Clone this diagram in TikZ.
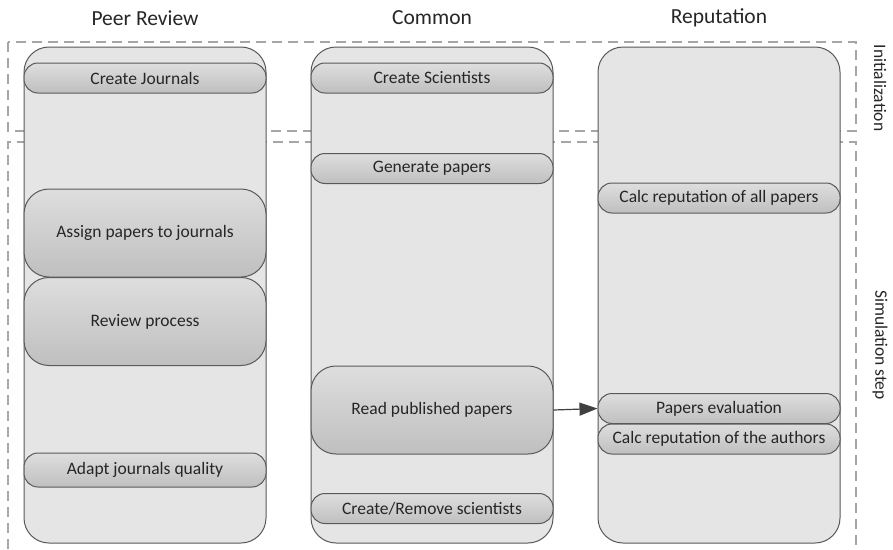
\documentclass[tikz,border=0pt]{standalone}
\usepackage{fontspec}
\setmainfont{Carlito}
\usepackage{tikz}
\usetikzlibrary{arrows.meta,positioning}

\begin{document}
\begin{tikzpicture}[x=1pt,y=-1pt, every node/.style={font=\fontsize{17.5}{20}\selectfont, text=black!85}]
		\tikzstyle{lane}=[draw=black!65, fill=black!10, rounded corners=25pt, line width=1pt, minimum width=242pt, minimum height=496pt, inner sep=0pt]
		\tikzstyle{task}=[draw=black!65, top color=black!13, bottom color=black!25, rounded corners=14pt, line width=1pt, minimum width=242pt, minimum height=30pt, inner sep=0pt]
		\tikzstyle{bigtask}=[task, rounded corners=25pt, minimum height=88pt]
		\tikzstyle{phase}=[draw=black!35, dash pattern=on 10pt off 6pt, line width=1.5pt]
		\tikzstyle{lanetitle}=[font=\fontsize{21.5}{25}\selectfont]
		\tikzstyle{flow}=[draw=black!75, line width=1.2pt, -{Triangle[length=18pt,width=13pt]}]
		
		\useasboundingbox (0,0) rectangle (893,549);
		
		% phases
		\draw[phase] (8,42) rectangle (856,131);
		\draw[phase] (8,549) -- (8,142) -- (856,142) -- (856,549);
		\node[rotate=-90] (init) at (880,88)  {Initialization};
		\node[rotate=-90] (sim)  at (880,345) {Simulation step};
		
		% lanes
		\node[lane] (peer)   at (145,295) {};
		\node[lane] (common) at (432,295) {};
		\node[lane] (rep)    at (719,295) {};
		\node[lanetitle] (peertitle)   at (145,18) {Peer Review};
		\node[lanetitle] (commontitle) at (432,18) {Common};
		\node[lanetitle] (reptitle)    at (719,18) {Reputation};
		
		% activities
		\node[task]    (journals)  at (145,78)    {Create Journals};
		\node[bigtask] (assign)    at (145,233)   {Assign papers to journals};
		\node[bigtask] (review)    at (145,321.5) {Review process};
		\node[task, minimum height=34pt] (adapt) at (145,470) {Adapt journals quality};
		
		\node[task]    (scient)    at (432,78)    {Create Scientists};
		\node[task]    (generate)  at (432,168.5) {Generate papers};
		\node[bigtask] (read)      at (432,410)   {Read published papers};
		\node[task]    (remove)    at (432,508.5) {Create/Remove scientists};
		
		\node[task]    (calcall)   at (719,198)   {Calc reputation of all papers};
		\node[task]    (evaluate)  at (719,408.5) {Papers evaluation};
		\node[task]    (calcauth)  at (719,439)   {Calc reputation of the authors};
		
		\draw[flow] (read.east) -- (evaluate.west);
\end{tikzpicture}
\end{document}
